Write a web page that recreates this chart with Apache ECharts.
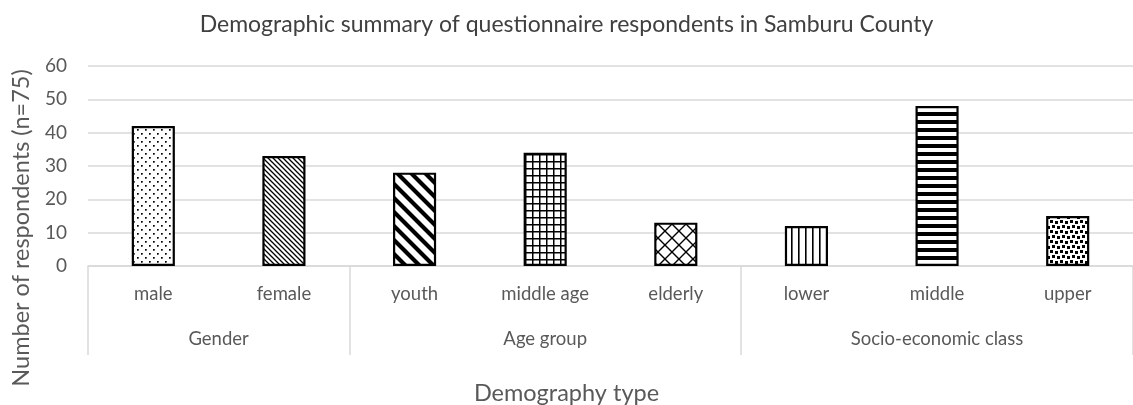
<!DOCTYPE html>
<html>
<head>
<meta charset="utf-8">
<title>Demographic summary of questionnaire respondents in Samburu County</title>
<script src="https://cdn.jsdelivr.net/npm/echarts@6/dist/echarts.min.js"></script>
<style>
  html, body { margin: 0; padding: 0; background: #fff; }
  #chart { width: 1133px; height: 405px; }
</style>
</head>
<body>
<div id="chart"></div>
<script>
// Respondent counts per demographic category
const categories = ['male', 'female', 'youth', 'middle age', 'elderly', 'lower', 'middle', 'upper'];
const respondents = [42, 33, 28, 34, 13, 12, 48, 15];
// Category groups, in order, with how many categories each holds
const groupNames = ['Gender', 'Age group', 'Socio-economic class'];
const groupSizes = [2, 3, 3];
// Fill pattern used for each category's bar
const fills = ['dots', 'fineDiag', 'wideDiag', 'grid', 'diagCross', 'vertical', 'horizontal', 'confetti'];
const yMin = 0, yMax = 60, yStep = 10;

const FONT = 'Lato';
const GREY = '#595959';
const RULE = '#d9d9d9';

// Black-on-white hatch tiles for the bars
function makeTile(kind) {
  const sizes = { dots: 8, fineDiag: 5, wideDiag: 14, grid: 7, diagCross: 14, vertical: 7, horizontal: 8, confetti: 10 };
  const s = sizes[kind];
  const c = document.createElement('canvas');
  c.width = s; c.height = s;
  const g = c.getContext('2d');
  g.fillStyle = '#fff';
  g.fillRect(0, 0, s, s);
  g.fillStyle = '#000';
  g.strokeStyle = '#000';
  const back = (w) => {
    g.lineWidth = w;
    g.beginPath();
    g.moveTo(-2, -2); g.lineTo(s + 2, s + 2);
    g.moveTo(-2, s - 2); g.lineTo(2, s + 2);
    g.moveTo(s - 2, -2); g.lineTo(s + 2, 2);
    g.stroke();
  };
  const fwd = (w) => {
    g.lineWidth = w;
    g.beginPath();
    g.moveTo(-2, s + 2); g.lineTo(s + 2, -2);
    g.moveTo(-2, 2); g.lineTo(2, -2);
    g.moveTo(s - 2, s + 2); g.lineTo(s + 2, s - 2);
    g.stroke();
  };
  switch (kind) {
    case 'dots':
      g.fillRect(1, 1, 1.7, 1.7);
      g.fillRect(5, 5, 1.7, 1.7);
      break;
    case 'fineDiag':
      back(1.3);
      break;
    case 'wideDiag':
      back(4.2);
      break;
    case 'grid':
      g.fillRect(0, 0, 1.5, s);
      g.fillRect(0, 0, s, 1.5);
      break;
    case 'diagCross':
      back(1.4);
      fwd(1.4);
      break;
    case 'vertical':
      g.fillRect(0, 0, 1.6, s);
      break;
    case 'horizontal':
      g.fillRect(0, 0, s, 4);
      break;
    case 'confetti':
      g.fillRect(0, 0, 3, 3);
      g.fillRect(5, 1, 3, 3);
      g.fillRect(2, 5, 3, 3);
      g.fillRect(7, 6, 3, 3);
      break;
  }
  return { image: c, repeat: 'repeat' };
}

// Group boundaries and centres in category units
const bounds = [0];
groupSizes.forEach((n, i) => bounds.push(bounds[i] + n));
const centres = groupSizes.map((n, i) => bounds[i] + n / 2);

const chart = echarts.init(document.getElementById('chart'), null, { renderer: 'canvas' });

chart.setOption({
  animation: false,
  backgroundColor: '#fff',
  textStyle: { fontFamily: FONT },
  title: [
    {
      text: 'Demographic summary of questionnaire respondents in Samburu County',
      left: 'center', top: 8,
      textStyle: { fontFamily: FONT, fontSize: 23, fontWeight: 'normal', color: '#404040' }
    },
    {
      text: 'Demography type',
      left: 'center', top: 376,
      textStyle: { fontFamily: FONT, fontSize: 23.5, fontWeight: 'normal', color: GREY }
    }
  ],
  graphic: [{
    type: 'text',
    x: 21, y: 228,
    rotation: Math.PI / 2,
    style: {
      text: 'Number of respondents (n=75)',
      font: '23.5px ' + FONT,
      fill: GREY,
      align: 'center',
      verticalAlign: 'middle'
    }
  }],
  grid: { left: 88, top: 66, width: 1052, height: 200, containLabel: false },
  xAxis: [
    {
      type: 'category',
      data: categories,
      position: 'bottom',
      axisLine: { show: true, lineStyle: { color: RULE, width: 1.5 } },
      axisTick: { show: false },
      axisLabel: { color: GREY, fontFamily: FONT, fontSize: 18.5, margin: 19 }
    },
    {
      type: 'value',
      min: 0, max: categories.length,
      position: 'bottom',
      axisLine: { show: false },
      splitLine: { show: false },
      axisTick: {
        show: true,
        customValues: bounds,
        length: 89,
        lineStyle: { color: RULE, width: 1.5 }
      },
      axisLabel: {
        show: true,
        customValues: centres,
        color: GREY, fontFamily: FONT, fontSize: 18.5, margin: 64,
        formatter: (v) => {
          const i = centres.indexOf(v);
          return i >= 0 ? groupNames[i] : '';
        }
      }
    }
  ],
  yAxis: {
    type: 'value',
    min: yMin, max: yMax, interval: yStep,
    axisLine: { show: false },
    axisTick: { show: false },
    splitLine: { lineStyle: { color: RULE, width: 1.5 } },
    axisLabel: { color: GREY, fontFamily: FONT, fontSize: 19, margin: 21 }
  },
  series: [{
    type: 'bar',
    xAxisIndex: 0,
    barWidth: '33%',
    data: respondents.map((v, i) => ({
      value: v,
      itemStyle: { color: makeTile(fills[i]), borderColor: '#000', borderWidth: 2.2 }
    }))
  }]
});
</script>
</body>
</html>
